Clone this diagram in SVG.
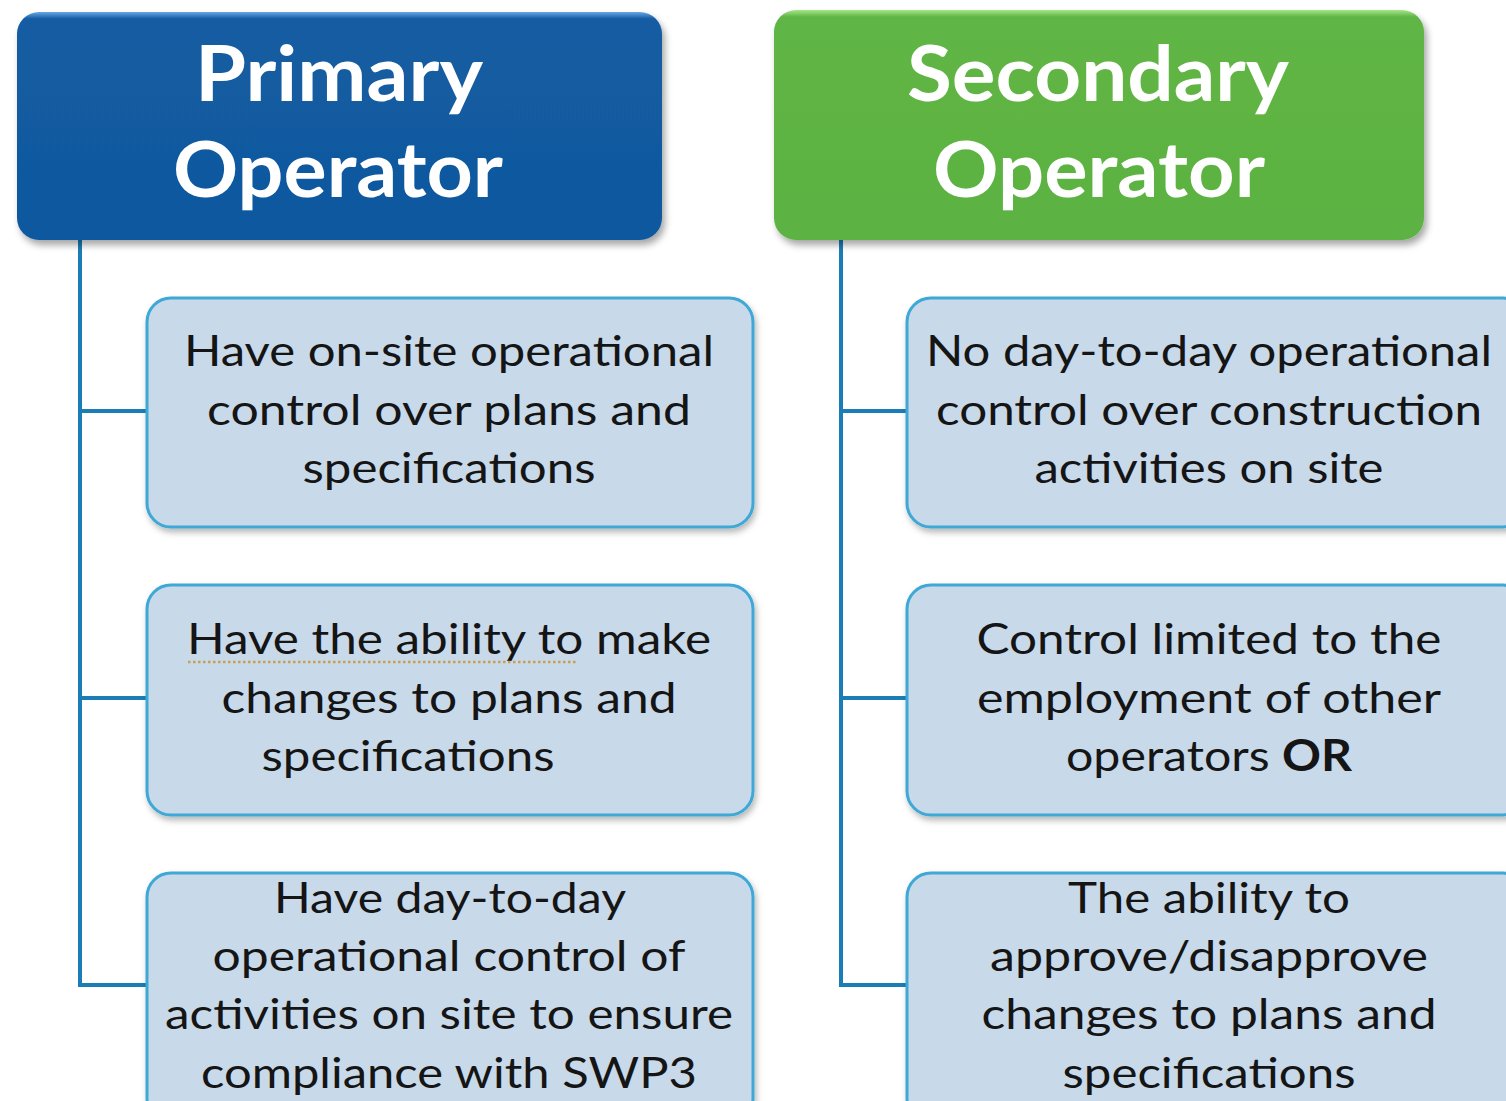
<svg xmlns="http://www.w3.org/2000/svg" width="1506" height="1101" viewBox="0 0 1506 1101">
<defs>
  <linearGradient id="gBlue" x1="0" y1="0" x2="0" y2="1">
    <stop offset="0" stop-color="#6AA8E6"/>
    <stop offset="0.03" stop-color="#135CA2"/>
    <stop offset="1" stop-color="#10589E"/>
  </linearGradient>
  <linearGradient id="gGreen" x1="0" y1="0" x2="0" y2="1">
    <stop offset="0" stop-color="#A6E68A"/>
    <stop offset="0.03" stop-color="#5FB544"/>
    <stop offset="1" stop-color="#5CB242"/>
  </linearGradient>
  <filter id="shadow" x="-5%" y="-5%" width="112%" height="115%">
    <feDropShadow dx="3" dy="5" stdDeviation="3.5" flood-color="#000" flood-opacity="0.35"/>
  </filter>
  <filter id="shadowS" x="-5%" y="-5%" width="112%" height="115%">
    <feDropShadow dx="2" dy="4" stdDeviation="3" flood-color="#000" flood-opacity="0.28"/>
  </filter>
</defs>
<style>
  .hdr { font-family: Lato, "Open Sans", sans-serif; font-weight: bold; font-size: 76px; fill: #FFFFFF; text-anchor: middle; }
  .box { fill: #C8D9EA; stroke: #3FA8D6; stroke-width: 3; }
  .txt { font-family: Lato, "Open Sans", sans-serif; font-size: 43px; fill: #151515; text-anchor: middle; }
  .conn { fill: none; stroke: #1B7DB6; stroke-width: 4; }
</style>
<rect width="1506" height="1101" fill="#FFFFFF"/>

<g id="connectors">
  <path class="conn" d="M80 238 V985 H147 M80 411 H147 M80 698 H147"/>
  <path class="conn" d="M841 238 V985 H907 M841 411 H907 M841 698 H907"/>
</g>

<g id="primary-operator">
  <rect x="17" y="12" width="645" height="228" rx="22" fill="url(#gBlue)" filter="url(#shadow)"/>
  <text class="hdr" x="339" y="101" textLength="288" lengthAdjust="spacingAndGlyphs">Primary</text>
  <text class="hdr" x="338" y="197" textLength="330" lengthAdjust="spacingAndGlyphs">Operator</text>
</g>

<g id="secondary-operator">
  <rect x="774" y="10" width="650" height="230" rx="22" fill="url(#gGreen)" filter="url(#shadow)"/>
  <text class="hdr" x="1098" y="101" textLength="382" lengthAdjust="spacingAndGlyphs">Secondary</text>
  <text class="hdr" x="1099" y="197" textLength="332" lengthAdjust="spacingAndGlyphs">Operator</text>
</g>

<g id="p1">
  <rect class="box" x="147" y="298" width="606" height="229" rx="24" filter="url(#shadowS)"/>
  <text class="txt" x="449" y="366" textLength="530" lengthAdjust="spacingAndGlyphs">Have on-site operational</text>
  <text class="txt" x="449" y="425" textLength="484" lengthAdjust="spacingAndGlyphs">control over plans and</text>
  <text class="txt" x="449" y="483" textLength="293" lengthAdjust="spacingAndGlyphs">specifications</text>
</g>

<g id="p2">
  <rect class="box" x="147" y="585" width="606" height="230" rx="24" filter="url(#shadowS)"/>
  <text class="txt" x="449" y="654" textLength="524" lengthAdjust="spacingAndGlyphs">Have the ability to make</text>
  <line x1="188" y1="662" x2="578" y2="662" stroke="#C9A050" stroke-width="2.5" stroke-dasharray="2.5 2.5"/>
  <text class="txt" x="449" y="713" textLength="455" lengthAdjust="spacingAndGlyphs">changes to plans and</text>
  <text class="txt" x="408" y="771" textLength="293" lengthAdjust="spacingAndGlyphs">specifications</text>
</g>

<g id="p3">
  <rect class="box" x="147" y="873" width="606" height="250" rx="24" filter="url(#shadowS)"/>
  <text class="txt" x="450" y="913" textLength="352" lengthAdjust="spacingAndGlyphs">Have day-to-day</text>
  <text class="txt" x="449" y="971" textLength="473" lengthAdjust="spacingAndGlyphs">operational control of</text>
  <text class="txt" x="449" y="1029" textLength="568" lengthAdjust="spacingAndGlyphs">activities on site to ensure</text>
  <text class="txt" x="449" y="1088" textLength="496" lengthAdjust="spacingAndGlyphs">compliance with SWP3</text>
</g>

<g id="s1">
  <rect class="box" x="907" y="298" width="620" height="229" rx="24" filter="url(#shadowS)"/>
  <text class="txt" x="1209" y="366" textLength="566" lengthAdjust="spacingAndGlyphs">No day-to-day operational</text>
  <text class="txt" x="1209" y="425" textLength="546" lengthAdjust="spacingAndGlyphs">control over construction</text>
  <text class="txt" x="1209" y="483" textLength="349" lengthAdjust="spacingAndGlyphs">activities on site</text>
</g>

<g id="s2">
  <rect class="box" x="907" y="585" width="620" height="230" rx="24" filter="url(#shadowS)"/>
  <text class="txt" x="1209" y="654" textLength="465" lengthAdjust="spacingAndGlyphs">Control limited to the</text>
  <text class="txt" x="1209" y="713" textLength="464" lengthAdjust="spacingAndGlyphs">employment of other</text>
  <text class="txt" x="1209" y="771" textLength="286" lengthAdjust="spacingAndGlyphs">operators <tspan font-weight="bold">OR</tspan></text>
</g>

<g id="s3">
  <rect class="box" x="907" y="873" width="620" height="250" rx="24" filter="url(#shadowS)"/>
  <text class="txt" x="1209" y="913" textLength="282" lengthAdjust="spacingAndGlyphs">The ability to</text>
  <text class="txt" x="1209" y="971" textLength="438" lengthAdjust="spacingAndGlyphs">approve/disapprove</text>
  <text class="txt" x="1209" y="1029" textLength="455" lengthAdjust="spacingAndGlyphs">changes to plans and</text>
  <text class="txt" x="1209" y="1088" textLength="293" lengthAdjust="spacingAndGlyphs">specifications</text>
</g>
</svg>
